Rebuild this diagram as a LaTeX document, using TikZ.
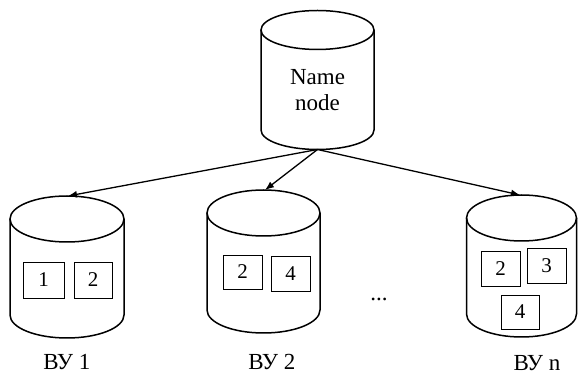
\documentclass[tikz,border=0pt]{standalone}
\usepackage{fontspec}
\setmainfont{Liberation Serif}
\usetikzlibrary{arrows.meta}

\begin{document}
\begin{tikzpicture}[x=1pt, y=1pt,
    barrel/.style={line width=1.5pt},
    link/.style={line width=1.3pt, -{Latex[length=9pt, width=7pt]}},
    block/.style={draw, line width=0.8pt, minimum width=39pt, minimum height=35pt, inner sep=0pt, font=\fontsize{21}{21}\selectfont},
    caption/.style={font=\fontsize{23}{26}\selectfont, align=center}]
    \useasboundingbox (0,0) rectangle (578,377);

    \draw[barrel] (261,347) -- (261,247) arc (180:360:56.5 and 19.5) -- (374,347);
    \draw[barrel] (317.5,347) ellipse (56.5 and 19.5);
    \node[caption] (nn) at (317.5,287) {Name\\node};
    \coordinate (nnbot) at (317.5,227.5);

    \draw[barrel] (10,158) -- (10,62) arc (180:360:57 and 23) -- (124,158);
    \draw[barrel] (67,158) ellipse (57 and 23);
    \coordinate (vu1top) at (68,181);
    \node[block, minimum width=41pt, minimum height=36pt] (b11) at (43.5,97) {1};
    \node[block, minimum width=38pt, minimum height=36pt] (b12) at (93,97) {2};
    \node[caption] (vu1) at (67,15) {ВУ 1};

    \draw[barrel] (207,164) -- (207,67) arc (180:360:56.5 and 23) -- (320,164);
    \draw[barrel] (263.5,164) ellipse (56.5 and 23);
    \coordinate (vu2top) at (265,187);
    \node[block, minimum height=34pt] (b22) at (242.5,105) {2};
    \node[block] (b24) at (290.5,103.5) {4};
    \node[caption] (vu2) at (272,15) {ВУ 2};

    \node[caption] (dots) at (379,78) {...};

    \draw[barrel] (466.5,159) -- (466.5,63) arc (180:360:55 and 23) -- (576.5,159);
    \draw[barrel] (521.5,159) ellipse (55 and 23);
    \coordinate (vuntop) at (520,182);
    \node[block] (bn2) at (500.5,108.5) {2};
    \node[block] (bn3) at (546.5,111.5) {3};
    \node[block, minimum width=38pt, minimum height=34pt] (bn4) at (520,65) {4};
    \node[caption] (vun) at (537,14) {ВУ n};

    \draw[link] (nnbot) -- (vu1top);
    \draw[link] (nnbot) -- (vu2top);
    \draw[link] (nnbot) -- (vuntop);
\end{tikzpicture}
\end{document}
